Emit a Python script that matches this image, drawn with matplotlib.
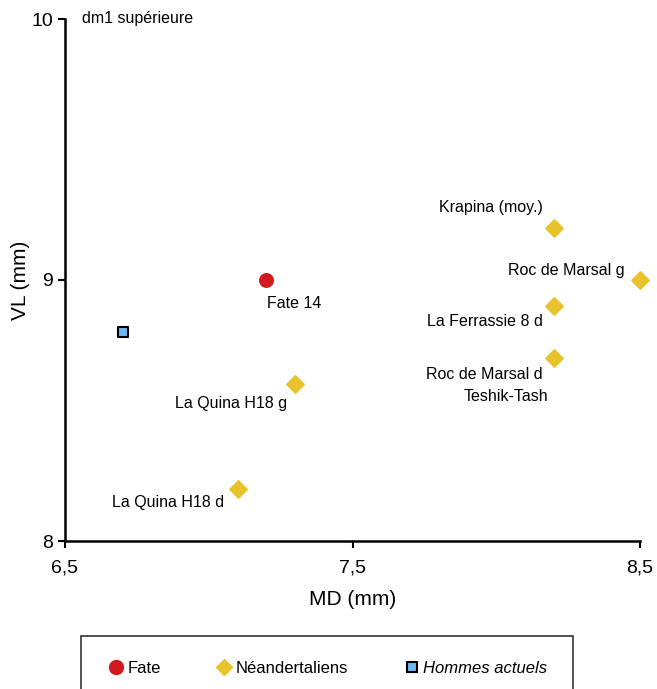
import matplotlib
matplotlib.use("Agg")
import matplotlib.pyplot as plt
from matplotlib.lines import Line2D

plt.rcParams['font.family'] = ['Liberation Sans', 'DejaVu Sans']

# data
fate_x = [7.2]
fate_y = [9.0]
fate_labels = ["Fate 14"]

nean_x = [8.2, 8.5, 8.2, 8.2, 7.3, 7.1]
nean_y = [9.2, 9.0, 8.9, 8.7, 8.6, 8.2]
nean_labels = ["Krapina (moy.)", "Roc de Marsal g", "La Ferrassie 8 d",
               "Roc de Marsal d", "La Quina H18 g", "La Quina H18 d"]
# second name sharing the Roc de Marsal d point
extra_label = "Teshik-Tash"

mod_x = [6.7]
mod_y = [8.8]

xticks = [6.5, 7.5, 8.5]
xtick_labels = ["6,5", "7,5", "8,5"]
yticks = [8, 9, 10]
ytick_labels = ["8", "9", "10"]

red = "#d2191f"
yellow = "#e8c22a"
blue = "#6cb8f0"

fig = plt.figure(figsize=(6.57, 6.89), dpi=100)
ax = fig.add_axes([65/657, 1-541/689, 575/657, 522/689])

ax.scatter(fate_x, fate_y, s=95, color=red, marker='o', zorder=3, clip_on=False)
ax.scatter(nean_x, nean_y, s=80, color=yellow, marker='D', zorder=3, clip_on=False)
ax.scatter(mod_x, mod_y, s=50, color=blue, marker='s', edgecolors='black',
           linewidths=1.5, zorder=3, clip_on=False)

ax.set_xlim(6.5, 8.5)
ax.set_ylim(8, 10)
ax.set_xticks(xticks)
ax.set_xticklabels(xtick_labels)
ax.set_yticks(yticks)
ax.set_yticklabels(ytick_labels)
ax.tick_params(labelsize=14, length=5, width=1.5, direction='out')
ax.tick_params(axis='x', pad=8)
ax.spines['top'].set_visible(False)
ax.spines['right'].set_visible(False)
ax.spines['left'].set_linewidth(1.8)
ax.spines['bottom'].set_linewidth(1.8)
ax.set_xlabel("MD (mm)", fontsize=15, labelpad=10)
ax.set_ylabel("VL (mm)", fontsize=15, labelpad=1)

# label offsets in pixels
offs = [(-11, 20), (-15, 9), (-11, -15), (-11, -16), (-8, -19), (-13, -14)]
for x, y, lab, (dx, dy) in zip(nean_x, nean_y, nean_labels, offs):
    ax.annotate(lab, (x, y), xytext=(dx, dy), textcoords='offset pixels',
                ha='right', va='center', fontsize=11.5)
ax.annotate(extra_label, (nean_x[3], nean_y[3]), xytext=(-6, -38),
            textcoords='offset pixels', ha='right', va='center', fontsize=11.5)
ax.annotate(fate_labels[0], (fate_x[0], fate_y[0]), xytext=(1, -23),
            textcoords='offset pixels', ha='left', va='center', fontsize=11.5)

fig.text(82/657, 1-19/689, "dm1 supérieure", ha='left', va='center', fontsize=11.5)

handles = [
    Line2D([], [], marker='o', color=red, linestyle='none', markersize=10),
    Line2D([], [], marker='D', color=yellow, linestyle='none', markersize=8),
    Line2D([], [], marker='s', markerfacecolor=blue, markeredgecolor='black',
           markeredgewidth=1.5, linestyle='none', markersize=7),
]
leg = fig.legend(handles, ["Fate", "Néandertaliens", "Hommes actuels"],
                 loc='upper left', bbox_to_anchor=(81/657, 1-636/689),
                 borderaxespad=0, ncol=3, fontsize=12, frameon=True, fancybox=False,
                 handletextpad=0.1, columnspacing=3.2, borderpad=1.5,
                 handlelength=1.2)
leg.get_frame().set_edgecolor('black')
leg.get_frame().set_linewidth(1.2)
leg.get_texts()[2].set_fontstyle('italic')

fig.savefig("out.png", dpi=100)
